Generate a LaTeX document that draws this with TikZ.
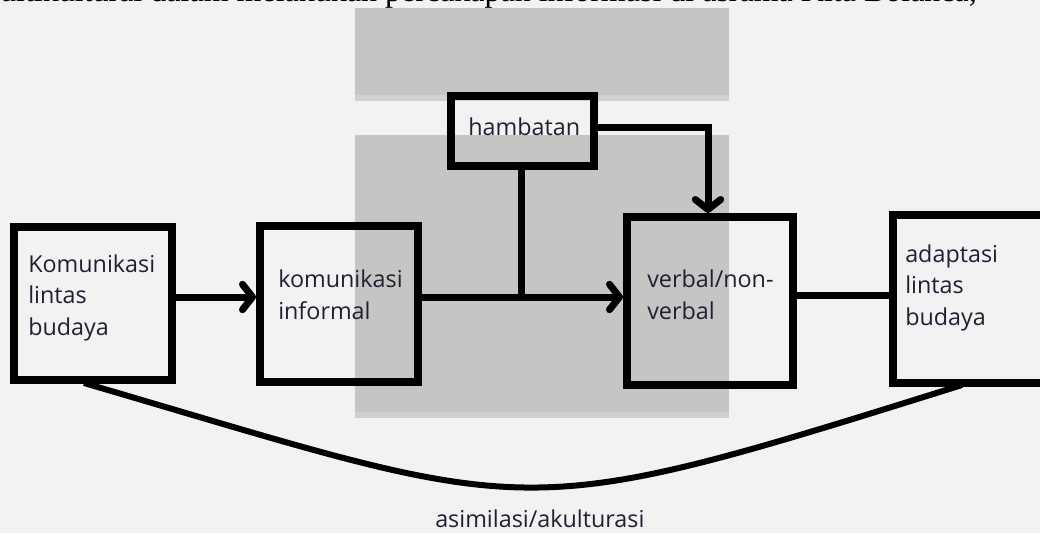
\documentclass[tikz,border=0pt]{standalone}
\usepackage{fontspec}
\setmainfont{Open Sans}
\newfontfamily\bodyserif{Liberation Serif}
\usetikzlibrary{arrows.meta}
\definecolor{inkblue}{HTML}{202033}
\definecolor{paper}{HTML}{F2F2F2}
\definecolor{panelgray}{HTML}{C6C5C3}
\definecolor{paneledge}{HTML}{D0D0CF}
\tikzset{
  box/.style={draw=black, line width=6pt, rectangle, inner sep=0pt},
  lbl/.style={anchor=base west, inner sep=0pt, align=left, text=inkblue,
              font=\fontsize{17.5pt}{23.6pt}\selectfont},
  link/.style={line width=5.25pt, draw=black},
  arr/.style={link, -{Straight Barb[length=7.5pt,width=19pt,round]}},
}
\begin{document}
\begin{tikzpicture}[x=0.75pt,y=-0.75pt]
  \useasboundingbox (0,0) rectangle (1040,533);
  \clip (0,0) rectangle (1040,533);
  % page background and grey panels behind the chart
  \fill[paper] (0,0) rectangle (1040,533);
  \fill[paneledge] (355,8) rectangle (729,101);
  \fill[panelgray] (355,8) rectangle (729,95);
  \fill[paneledge] (355,135) rectangle (729,418);
  \fill[panelgray] (355,135) rectangle (729,412);

  % running text of the page above the chart
  \node[anchor=base east, inner sep=0pt, font=\bodyserif\fontsize{24pt}{28pt}\selectfont]
    (runtext) at (977,1.5) {multikultural dalam melakukan percakapan informasi di asrama Kita Bolanca,};

  % boxes
  \node[box, minimum width=118.5pt, minimum height=114.75pt] (b1) at (93,303.5) {};
  \node[box, minimum width=118.5pt, minimum height=117pt]    (b2) at (339,304) {};
  \node[box, minimum width=124.5pt, minimum height=126pt]    (b3) at (710,301) {};
  \node[box, minimum width=125.25pt, minimum height=126pt]   (b4) at (976.5,299) {};
  \node[box, minimum width=107.25pt, minimum height=52.5pt]  (hb) at (522.5,131) {};

  % box texts (anchored at the baseline of the last line)
  \node[lbl] (t1) at (28,335)  {Komunikasi\\lintas\\budaya};
  \node[lbl] (t2) at (278,319) {komunikasi\\informal};
  \node[lbl] (t3) at (647,319) {verbal/non-\\verbal};
  \node[lbl] (t4) at (905,325) {adaptasi\\lintas\\budaya};
  \node[lbl] (th) at (468,135) {hambatan};

  % connector levels
  \coordinate (mid)  at (521,297);
  \coordinate (turn) at (708,127);
  \coordinate (lvl)  at (840,295);
  \coordinate (cs)   at (84,383);
  \coordinate (ce)   at (962,385);

  \draw[arr] (b1.east |- mid) -- (b2.west |- mid);
  \draw[arr] (b2.east |- mid) -- (b3.west |- mid);
  \draw[link] (hb.south -| mid) -- (mid);
  \draw[arr] (hb.east |- turn) -- (turn) -- (turn |- b3.north);
  \draw[link] (b3.east |- lvl) -- (b4.west |- lvl);

  % bottom arc between the outer boxes
  \draw[line width=4.5pt] (cs) .. controls (542,517) and (508,527) .. (ce);
  \node[anchor=base west, inner sep=0pt, text=inkblue, font=\fontsize{17.5pt}{23.6pt}\selectfont]
    (ta) at (435,527) {asimilasi/akulturasi};
\end{tikzpicture}
\end{document}
